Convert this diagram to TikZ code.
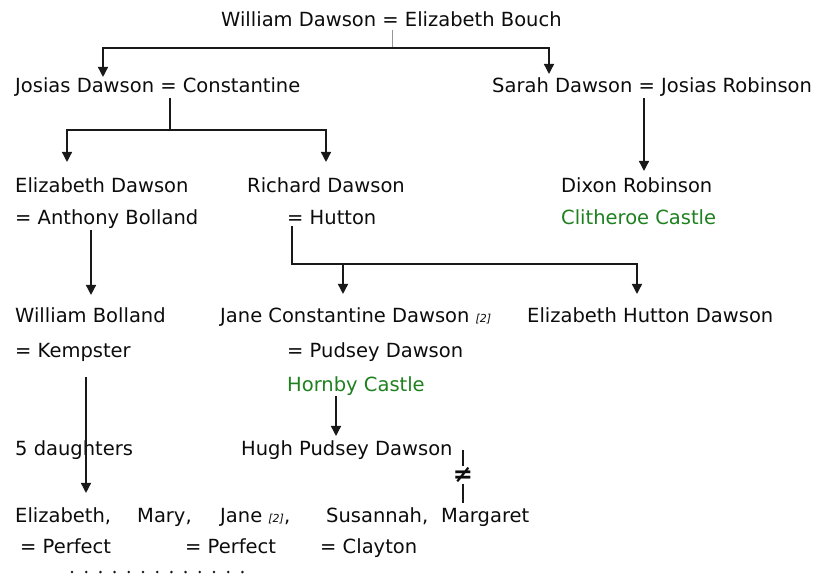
\documentclass[tikz,border=0pt]{standalone}
\usepackage{fontspec}
\setmainfont{DejaVu Sans}
\usepackage{xcolor}
\usepackage{tikz}
\definecolor{castlegreen}{RGB}{30, 128, 30}
\definecolor{linegray}{RGB}{25, 25, 25}
\definecolor{textgray}{RGB}{12, 12, 12}
\definecolor{tickgray}{RGB}{150, 150, 150}
\usetikzlibrary{arrows.meta, positioning}

\begin{document}
\begin{tikzpicture}[
        x=1pt, y=-1pt,
        every node/.style={font=\fontsize{19.5}{24}\selectfont, text=textgray},
        person/.style={anchor=base west, inner sep=1pt},
        castle/.style={person, text=castlegreen},
        line/.style={line width=1.4pt, color=linegray},
        arrow/.style={line, -{Triangle[width=10pt,length=10pt]}}
    ]
        \useasboundingbox (0,0) rectangle (815,575);

        % First generation
        \node[person] (wd) at (220,27) {William Dawson = Elizabeth Bouch};

        % Children of William Dawson
        \node[person] (josias) at (14,93) {Josias Dawson = Constantine};
        \node[person] (sarah) at (491,93) {Sarah Dawson = Josias Robinson};

        % Grandchildren
        \node[person] (eliz) at (14,193) {Elizabeth Dawson};
        \node[person] (bolland) at (14,225) {= Anthony Bolland};
        \node[person] (richard) at (246,193) {Richard Dawson};
        \node[person] (hutton) at (286,225) {= Hutton};
        \node[person] (dixon) at (560,193) {Dixon Robinson};
        \node[castle] (clitheroe) at (560,225) {Clitheroe Castle};

        % Great-grandchildren
        \node[person] (wbolland) at (14,323) {William Bolland};
        \node[person] (kempster) at (14,357) {= Kempster};
        \node[person] (jane) at (219,323) {Jane Constantine Dawson {\fontsize{11}{12}\selectfont\itshape [2]}};
        \node[person] (pudsey) at (286,357) {= Pudsey Dawson};
        \node[castle] (hornby) at (286,391) {Hornby Castle};
        \node[person] (ehd) at (526,323) {Elizabeth Hutton Dawson};

        % Next generation
        \node[person] (daughters) at (14,455) {5 daughters};
        \node[person] (hugh) at (240,455) {Hugh Pudsey Dawson};

        % The five daughters
        \node[person] (d1) at (14,522) {Elizabeth,};
        \node[person] (d2) at (136,522) {Mary,};
        \node[person] (d3) at (219,522) {Jane {\fontsize{11}{12}\selectfont\itshape [2]},};
        \node[person] (d4) at (325,522) {Susannah,};
        \node[person] (d5) at (440,522) {Margaret};
        \node[person] (p1) at (19,553) {= Perfect};
        \node[person] (p2) at (184,553) {= Perfect};
        \node[person] (p3) at (319,553) {= Clayton};

        % Not married
        \node[inner sep=1pt, font=\fontsize{24}{26}\selectfont\bfseries] (ne) at (463,475) {≠};

        % Arrows
        \draw[tickgray, line width=1pt, shorten <=2pt] (392,0 |- wd.south) -- (392,48) coordinate (wdbar);
        \draw[arrow] (wdbar) -| (103,0 |- josias.north);
        \draw[arrow, shorten >=3pt] (wdbar) -| (549,0 |- sarah.north);
        \draw[arrow, shorten >=15pt] (170,0 |- josias.south) -- (170,130) -| (67,0 |- eliz.north);
        \draw[arrow, shorten >=15pt] (170,0 |- josias.south) -- (170,130) -| (326,0 |- richard.north);
        \draw[arrow, shorten >=6pt] (644,0 |- sarah.south) -- (644,0 |- dixon.north);
        \draw[arrow, shorten >=12pt] (91,0 |- bolland.south) -- (91,0 |- wbolland.north);
        \draw[arrow, shorten >=13pt] (292,0 |- hutton.south) -- (292,264) -| (343,0 |- jane.north);
        \draw[arrow, shorten >=13pt] (292,0 |- hutton.south) -- (292,264) -| (637,0 |- ehd.north);
        \draw[arrow, shorten >=3pt] (336,0 |- hornby.south) -- (336,0 |- hugh.north);
        \draw[arrow, shorten <=15pt, shorten >=13pt] (86,0 |- kempster.south) -- (86,0 |- d1.north);
        \draw[line, line width=1.2pt] (ne.north) -- (463,0 |- hugh.center);
        \draw[line, line width=1.2pt, shorten >=4pt] (ne.south) -- (463,0 |- d5.north);

        % Dotted continuation
        \foreach \i in {0,...,12}
            \fill[linegray] (72+14.2*\i,572) circle (1.4pt);

    \end{tikzpicture}
\end{document}
